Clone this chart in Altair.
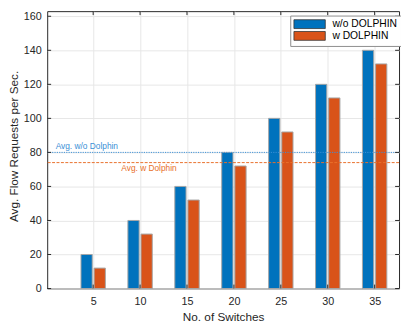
import altair as alt
import pandas as pd

# ---- data ----
switches = [5, 10, 15, 20, 25, 30, 35]
series_names = ["w/o DOLPHIN", "w DOLPHIN"]
without_dolphin = [20, 40, 60, 80, 100, 120, 140]
with_dolphin = [12, 32, 52, 72, 92, 112, 132]
avg_labels = ["Avg. w/o Dolphin", "Avg. w Dolphin"]
avg_values = [80, 74]
x_ticks = [5, 10, 15, 20, 25, 30, 35]
y_ticks = [0, 20, 40, 60, 80, 100, 120, 140, 160]

colors = ["#0072BD", "#D95319"]
avg_colors = ["#3a8fd6", "#e8702a"]
FONT = "Liberation Sans"
TXT = "#262626"
W, H = 359, 283

rows = []
for i, n in enumerate(switches):
    rows.append({"n": n, "series": series_names[0], "value": without_dolphin[i], "k": 0})
    rows.append({"n": n, "series": series_names[1], "value": with_dolphin[i], "k": 1})
bars_df = pd.DataFrame(rows)

xscale = alt.Scale(domain=[0.1, 37.6], nice=False, zero=False)
yscale = alt.Scale(domain=[0, 163], nice=False)

xaxis = alt.Axis(values=x_ticks, title="No. of Switches", grid=True,
                 gridColor="#e6e6e6", domain=False, ticks=False,
                 labelPadding=7, labelFontSize=11, labelFont=FONT,
                 labelColor=TXT, titleFont=FONT, titleFontSize=12,
                 titleFontWeight="normal", titleColor=TXT,
                 titleY=24, titleBaseline="top")
yaxis = alt.Axis(values=y_ticks, title="Avg. Flow Requests per Sec.",
                 grid=True, gridColor="#e6e6e6", domain=False,
                 ticks=False, labelPadding=6, labelFontSize=11,
                 labelFont=FONT, labelColor=TXT, titleFont=FONT,
                 titleFontSize=12, titleFontWeight="normal",
                 titleColor=TXT, titleX=-34, titleY=H / 2 - 4,
                 titleAngle=270, titleAlign="center",
                 titleBaseline="middle")

bars = alt.Chart(bars_df).transform_calculate(
    x0="datum.k == 0 ? datum.n - 1.3 : datum.n + 0.1",
    x1="datum.k == 0 ? datum.n - 0.1 : datum.n + 1.3",
).mark_rect(stroke="#a6a6a6", strokeWidth=1).encode(
    x=alt.X("x0:Q", scale=xscale, axis=xaxis),
    x2="x1:Q",
    y=alt.Y("value:Q", scale=yscale, axis=yaxis),
    y2=alt.datum(0),
    color=alt.Color("series:N",
                    scale=alt.Scale(domain=series_names, range=colors),
                    legend=alt.Legend(orient="none", legendX=248, legendY=4.5,
                                      title=None,
                                      symbolType="M-2,-1.8L10.8,-1.8L10.8,1.8L-2,1.8Z",
                                      symbolSize=25, symbolStrokeColor="#333333",
                                      symbolStrokeWidth=0.8, symbolOpacity=1,
                                      labelFontSize=10.5, labelFont=FONT,
                                      labelColor="#000000", labelOffset=29,
                                      fillColor="white", strokeColor="#8c8c8c",
                                      padding=3.5, rowPadding=-2.4)),
)

avg_df = pd.DataFrame({"label": avg_labels, "value": avg_values})

avg_blue = alt.Chart(avg_df.iloc[[0]]).mark_rule(
    color=avg_colors[0], strokeWidth=1, strokeDash=[1.2, 1.2]
).encode(y=alt.Y("value:Q", scale=yscale, axis=yaxis))
avg_orange = alt.Chart(avg_df.iloc[[1]]).mark_rule(
    color=avg_colors[1], strokeWidth=1, strokeDash=[3, 1.5]
).encode(y=alt.Y("value:Q", scale=yscale, axis=yaxis))

txt_blue = alt.Chart(avg_df.iloc[[0]]).mark_text(
    align="left", baseline="bottom", dy=-1, fontSize=8.5, font=FONT,
    color=avg_colors[0]
).encode(x=alt.XDatum(1.0, scale=xscale, axis=xaxis),
         y=alt.Y("value:Q", scale=yscale, axis=yaxis),
         text="label:N")
txt_orange = alt.Chart(avg_df.iloc[[1]]).mark_text(
    align="left", baseline="top", dy=2, fontSize=8.5, font=FONT,
    color=avg_colors[1]
).encode(x=alt.XDatum(8.0, scale=xscale, axis=xaxis),
         y=alt.Y("value:Q", scale=yscale, axis=yaxis),
         text="label:N")

xt = pd.DataFrame({"t": x_ticks})
yt = pd.DataFrame({"t": y_ticks})
tick_style = dict(color=TXT, strokeWidth=1)
top_ticks = alt.Chart(xt).mark_rule(**tick_style).encode(
    x=alt.X("t:Q", scale=xscale, axis=xaxis), y=alt.value(0), y2=alt.value(4))
bot_ticks = alt.Chart(xt).mark_rule(**tick_style).encode(
    x=alt.X("t:Q", scale=xscale, axis=xaxis), y=alt.value(H), y2=alt.value(H - 4))
left_ticks = alt.Chart(yt).mark_rule(**tick_style).encode(
    y=alt.Y("t:Q", scale=yscale, axis=yaxis), x=alt.value(0), x2=alt.value(4))
right_ticks = alt.Chart(yt).mark_rule(**tick_style).encode(
    y=alt.Y("t:Q", scale=yscale, axis=yaxis), x=alt.value(W), x2=alt.value(W - 4))

chart = alt.layer(
    bars, avg_blue, avg_orange, txt_blue, txt_orange,
    top_ticks, bot_ticks, left_ticks, right_ticks
).properties(
    width=W, height=H,
    background="white",
    autosize=alt.AutoSizeParams(type="none"),
    padding={"left": 40, "top": 0, "right": 2, "bottom": 34},
).configure_view(stroke=TXT, strokeWidth=1)

chart.save("out.html", embed_options={"renderer": "svg", "actions": False})
